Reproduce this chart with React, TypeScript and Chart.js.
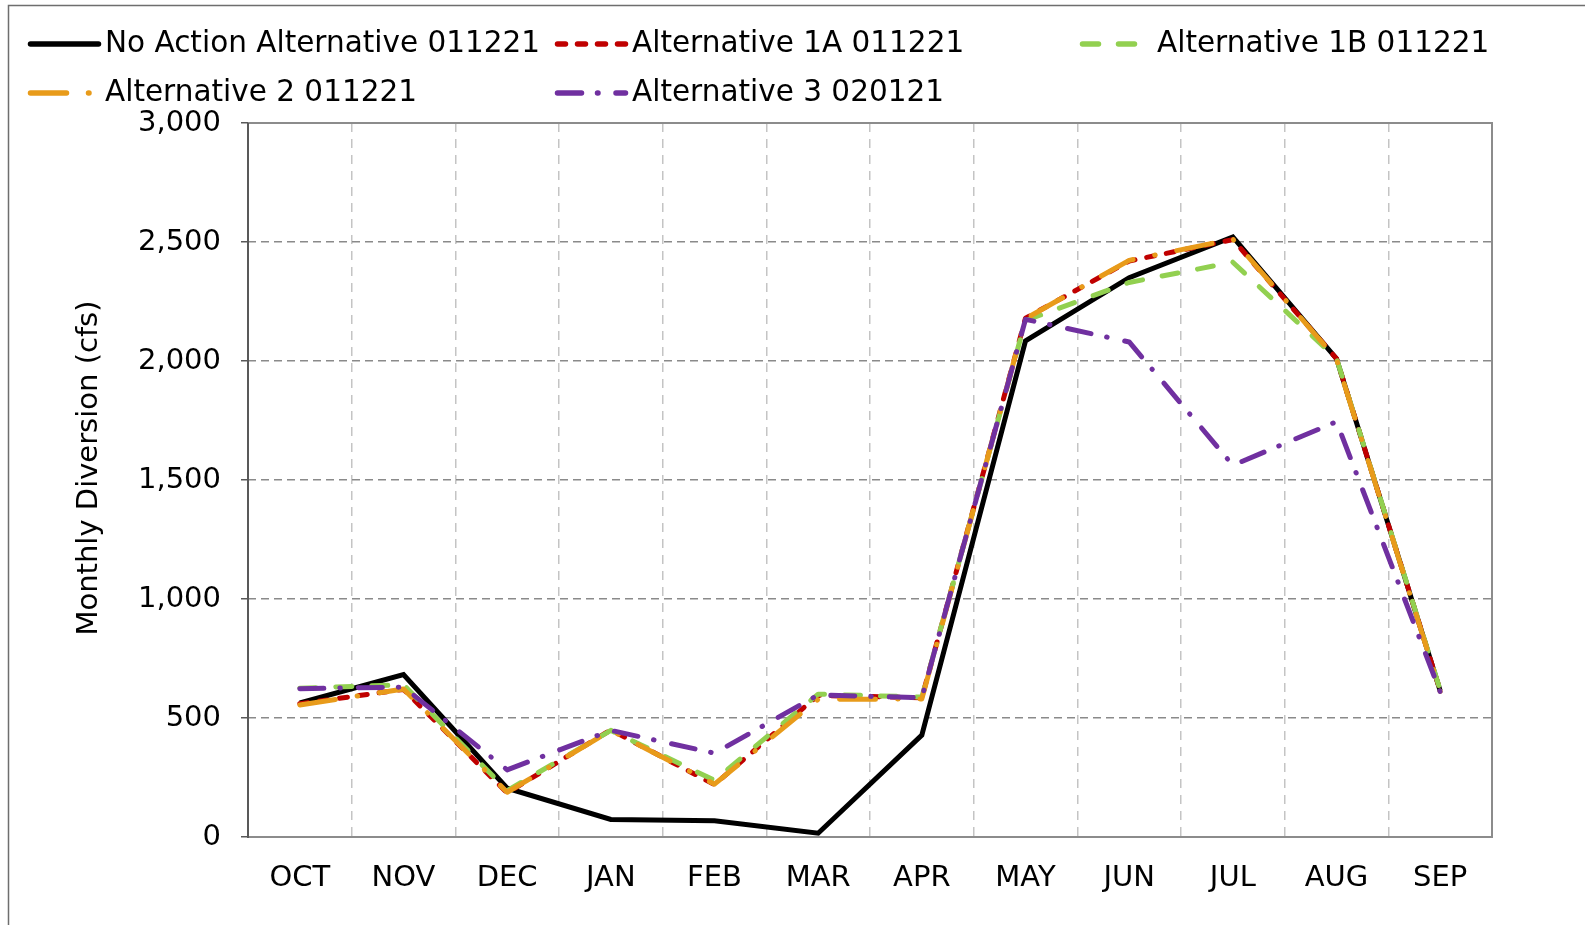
import React, { useEffect, useRef } from "react";
import { Chart, registerables } from "chart.js";

Chart.register(...registerables);

const months = ["OCT", "NOV", "DEC", "JAN", "FEB", "MAR", "APR", "MAY", "JUN", "JUL", "AUG", "SEP"];
const noActionValues = [563, 682, 205, 74, 68, 16, 428, 2085, 2350, 2521, 2010, 614];
const alt1AValues = [560, 620, 185, 450, 220, 595, 585, 2180, 2420, 2510, 2010, 615];
const alt1BValues = [625, 640, 195, 448, 238, 600, 588, 2170, 2330, 2415, 2011, 618];
const alt2Values = [555, 622, 188, 448, 222, 578, 580, 2178, 2423, 2512, 2008, 612];
const alt3Values = [623, 630, 282, 448, 352, 597, 585, 2175, 2080, 1562, 1745, 610];
const seriesLabels = [
  "No Action Alternative 011221",
  "Alternative 1A 011221",
  "Alternative 1B 011221",
  "Alternative 2 011221",
  "Alternative 3 020121",
];
const yMin = 0;
const yMax = 3000;
const yStep = 500;
const yTitle = "Monthly Diversion (cfs)";

const FONT = "'DejaVu Sans', Verdana, sans-serif";

const seriesStyles = [
  { color: "#000000", dash: [] as number[], width: 5, cap: "butt" as CanvasLineCap, join: "miter" as CanvasLineJoin },
  { color: "#C00000", dash: [8, 12], width: 5, cap: "round" as CanvasLineCap, join: "round" as CanvasLineJoin },
  { color: "#92D050", dash: [16, 20], width: 5, cap: "round" as CanvasLineCap, join: "round" as CanvasLineJoin },
  { color: "#E89B1A", dash: [36, 22, 0.5, 22], width: 5, cap: "round" as CanvasLineCap, join: "round" as CanvasLineJoin },
  { color: "#7030A0", dash: [24, 16, 0.5, 18], width: 5, cap: "round" as CanvasLineCap, join: "round" as CanvasLineJoin },
];

// legend item placement (x of sample start, sample end, text start, row)
const legendSlots = [
  { x0: 28, x1: 101, tx: 105, y: 44 },
  { x0: 555, x1: 628, tx: 632, y: 44 },
  { x0: 1080, x1: 1142, tx: 1157, y: 44 },
  { x0: 28, x1: 101, tx: 105, y: 93 },
  { x0: 555, x1: 628, tx: 632, y: 93 },
];

const framePlugin = {
  id: "framePlugin",
  beforeDatasetsDraw(chart: any) {
    const { ctx, chartArea: a } = chart;
    ctx.save();
    ctx.setLineDash([]);
    ctx.lineWidth = 2;
    ctx.strokeStyle = "#8c8c8c";
    ctx.beginPath();
    ctx.moveTo(a.left, a.top);
    ctx.lineTo(a.right, a.top);
    ctx.lineTo(a.right, a.bottom);
    ctx.lineTo(a.left, a.bottom);
    ctx.stroke();
    ctx.strokeStyle = "#595959";
    ctx.beginPath();
    ctx.moveTo(a.left, a.top);
    ctx.lineTo(a.left, a.bottom + 1);
    ctx.stroke();
    ctx.restore();
  },
  afterDraw(chart: any) {
    const { ctx } = chart;
    ctx.save();
    // outer chart border (left and top)
    ctx.setLineDash([]);
    ctx.lineWidth = 1.5;
    ctx.strokeStyle = "#6e6e6e";
    ctx.beginPath();
    ctx.moveTo(8.5, chart.height);
    ctx.lineTo(8.5, 5.5);
    ctx.lineTo(chart.width, 5.5);
    ctx.stroke();

    // legend
    ctx.font = `29.5px ${FONT}`;
    ctx.textBaseline = "middle";
    ctx.textAlign = "left";
    chart.data.datasets.forEach((ds: any, i: number) => {
      const s = legendSlots[i];
      const st = seriesStyles[i];
      ctx.save();
      ctx.strokeStyle = st.color;
      ctx.lineWidth = 5.5;
      ctx.lineCap = "round";
      ctx.setLineDash(st.dash);
      ctx.beginPath();
      ctx.moveTo(s.x0 + 2.5, s.y);
      ctx.lineTo(s.x1 - 2.5, s.y);
      ctx.stroke();
      ctx.restore();
      ctx.fillStyle = "#000000";
      ctx.fillText(ds.label, s.tx, s.y);
    });

    // y axis title
    const a = chart.chartArea;
    ctx.save();
    ctx.translate(89, (a.top + a.bottom) / 2 - 12);
    ctx.rotate(-Math.PI / 2);
    ctx.textAlign = "center";
    ctx.textBaseline = "middle";
    ctx.font = `29px ${FONT}`;
    ctx.fillStyle = "#000000";
    ctx.fillText(yTitle, 0, 0);
    ctx.restore();
    ctx.restore();
  },
};

export default function App() {
  const canvasRef = useRef<HTMLCanvasElement | null>(null);

  useEffect(() => {
    const canvas = canvasRef.current;
    if (!canvas) return;
    const seriesValues = [noActionValues, alt1AValues, alt1BValues, alt2Values, alt3Values];
    const datasets = seriesValues.map((vals, i) => ({
      label: seriesLabels[i],
      data: vals,
      borderColor: seriesStyles[i].color,
      backgroundColor: seriesStyles[i].color,
      borderWidth: seriesStyles[i].width,
      borderDash: seriesStyles[i].dash,
      borderCapStyle: seriesStyles[i].cap,
      borderJoinStyle: seriesStyles[i].join,
      pointRadius: 0,
      pointHoverRadius: 0,
      tension: 0,
      fill: false,
      order: 5 - i,
    }));

    const chart = new Chart(canvas, {
      type: "line",
      data: { labels: months, datasets },
      options: {
        responsive: false,
        animation: false,
        devicePixelRatio: 1,
        layout: { padding: { top: 123, right: 93, bottom: 0, left: 0 } },
        plugins: {
          legend: { display: false },
          tooltip: { enabled: false },
          title: { display: false },
        },
        scales: {
          x: {
            type: "category",
            offset: true,
            grid: {
              offset: true,
              color: "#c4c4c4",
              lineWidth: 1.5,
              drawTicks: false,
            },
            border: { display: false, dash: [9, 7] },
            ticks: {
              color: "#000000",
              font: { family: FONT, size: 29 },
              padding: 24,
              autoSkip: false,
              maxRotation: 0,
              minRotation: 0,
            },
            afterFit: (scale: any) => {
              scale.height = 88;
            },
          },
          y: {
            type: "linear",
            min: yMin,
            max: yMax,
            grid: {
              color: "#8a8a8a",
              lineWidth: 1.5,
              drawTicks: true,
              tickLength: 7,
              tickColor: "#595959",
              tickWidth: 1.5,
              tickBorderDash: [],
            },
            border: { display: false, dash: [8, 5] },
            ticks: {
              stepSize: yStep,
              color: "#000000",
              font: { family: FONT, size: 29 },
              padding: 20,
              callback: (v: any) => Number(v).toLocaleString("en-US"),
            },
            afterFit: (scale: any) => {
              scale.width = 248;
            },
          },
        },
      },
      plugins: [framePlugin],
    });

    return () => chart.destroy();
  }, []);

  return (
    <div style={{ position: "fixed", left: 0, top: 0, width: 1585, height: 925, background: "#ffffff" }}>
      <canvas ref={canvasRef} width={1585} height={925} style={{ display: "block", width: 1585, height: 925 }} />
    </div>
  );
}
